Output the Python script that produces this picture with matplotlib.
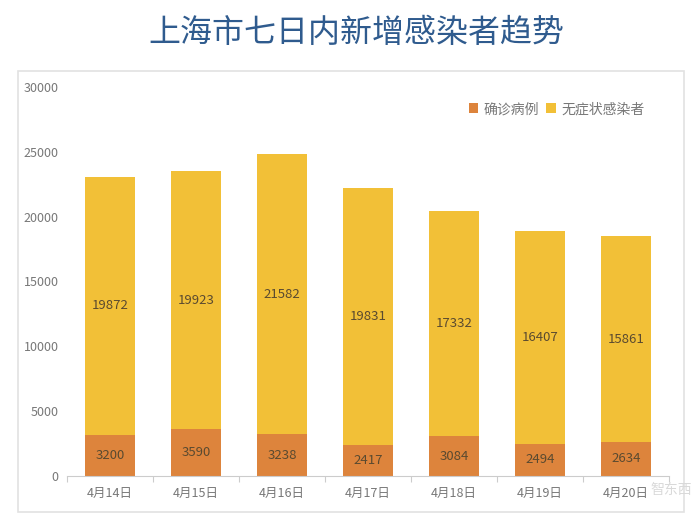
import matplotlib
matplotlib.use("Agg")
import matplotlib.pyplot as plt
from matplotlib.patches import Rectangle

plt.rcParams['font.family'] = ['Noto Sans CJK SC', 'DejaVu Sans']

# Data
dates = ['4月14日', '4月15日', '4月16日', '4月17日', '4月18日', '4月19日', '4月20日']
confirmed = [3200, 3590, 3238, 2417, 3084, 2494, 2634]
asymptomatic = [19872, 19923, 21582, 19831, 17332, 16407, 15861]
yticks = [0, 5000, 10000, 15000, 20000, 25000, 30000]

W, H = 700, 524
fig = plt.figure(figsize=(W / 100, H / 100), dpi=100)

# Outer chart frame, kept behind the axes
fig.add_artist(Rectangle((18 / W, 1 - 512 / H), 666 / W, 441 / H, transform=fig.transFigure,
                         facecolor='white', edgecolor='#e2e2e2', linewidth=1.2, zorder=-1))

fig.text(356 / W, 1 - 33 / H, '上海市七日内新增感染者趋势', fontsize=23, color='#2f5b8e',
         ha='center', va='center')

ax = fig.add_axes([67 / W, 1 - 476 / H, 602 / W, 389 / H])
ax.patch.set_alpha(0)
x = range(len(dates))
ax.bar(x, confirmed, width=0.575, color='#dd843c', label='确诊病例')
ax.bar(x, asymptomatic, width=0.575, bottom=confirmed, color='#f2c037', label='无症状感染者')

# Value labels in the middle of each segment
for i in x:
    ax.text(i, confirmed[i] / 2, str(confirmed[i]), ha='center', va='center',
            fontsize=9.5, color='#5a4a30')
    ax.text(i, confirmed[i] + asymptomatic[i] / 2, str(asymptomatic[i]), ha='center', va='center',
            fontsize=9.5, color='#5a4a30')

ax.set_xlim(-0.5, 6.5)
ax.set_ylim(0, 30000)
ax.set_xticks(list(x))
ax.set_xticklabels(dates, fontsize=9, color='#777777')
ax.set_xticks([i - 0.5 for i in range(8)], minor=True)
ax.set_yticks(yticks)
ax.set_yticklabels([str(v) for v in yticks], fontsize=9, color='#777777')
ax.tick_params(axis='x', which='major', length=0, pad=8)
ax.tick_params(axis='x', which='minor', length=4, color='#cccccc', width=0.8)
ax.tick_params(axis='y', length=0, pad=6)
for side in ['top', 'right', 'left']:
    ax.spines[side].set_visible(False)
ax.spines['bottom'].set_color('#cccccc')

ax.legend(loc='center right', bbox_to_anchor=(0.969, 0.943), borderaxespad=0, ncols=2, frameon=False,
          fontsize=10, labelcolor='#777777', handlelength=0.7, handleheight=0.7, handletextpad=0.4,
          columnspacing=0.5)

# Watermark in the corner, beside the last date label
fig.text(671 / W, 1 - 490 / H, '智东西', fontsize=10, color='#d9d9d9',
         ha='center', va='center')

fig.savefig('out.png', dpi=100)
